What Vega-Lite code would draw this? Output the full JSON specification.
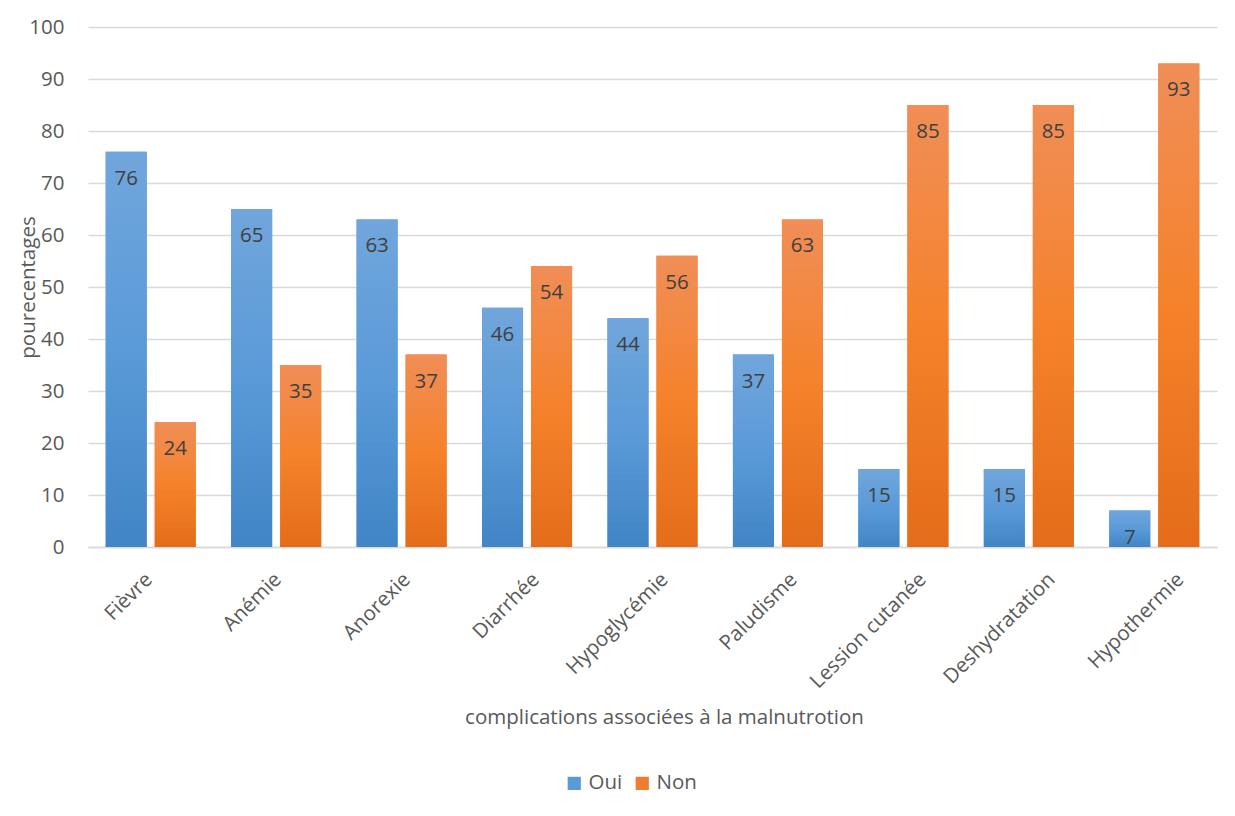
{
  "$schema": "https://vega.github.io/schema/vega-lite/v6.json",
  "width": 1129,
  "height": 520,
  "autosize": {"type": "none"},
  "padding": {"left": 88, "top": 27, "right": 18, "bottom": 269},
  "background": "white",
  "config": {
    "font": "Open Sans",
    "view": {"stroke": null},
    "axis": {
      "labelColor": "#595959",
      "titleColor": "#595959",
      "labelFont": "Open Sans",
      "titleFont": "Open Sans",
      "labelFontSize": 20.5,
      "titleFontSize": 20.5,
      "titleFontWeight": "normal",
      "gridColor": "#d9d9d9",
      "gridWidth": 1.5,
      "domainColor": "#d9d9d9",
      "domainWidth": 1.5,
      "ticks": false
    },
    "legend": {
      "labelColor": "#595959",
      "labelFont": "Open Sans",
      "labelFontSize": 20.5
    }
  },
  "data": {
    "values": [
      {"complication": "Fièvre", "serie": "Oui", "pct": 76},
      {"complication": "Fièvre", "serie": "Non", "pct": 24},
      {"complication": "Anémie", "serie": "Oui", "pct": 65},
      {"complication": "Anémie", "serie": "Non", "pct": 35},
      {"complication": "Anorexie", "serie": "Oui", "pct": 63},
      {"complication": "Anorexie", "serie": "Non", "pct": 37},
      {"complication": "Diarrhée", "serie": "Oui", "pct": 46},
      {"complication": "Diarrhée", "serie": "Non", "pct": 54},
      {"complication": "Hypoglycémie", "serie": "Oui", "pct": 44},
      {"complication": "Hypoglycémie", "serie": "Non", "pct": 56},
      {"complication": "Paludisme", "serie": "Oui", "pct": 37},
      {"complication": "Paludisme", "serie": "Non", "pct": 63},
      {"complication": "Lession cutanée", "serie": "Oui", "pct": 15},
      {"complication": "Lession cutanée", "serie": "Non", "pct": 85},
      {"complication": "Deshydratation", "serie": "Oui", "pct": 15},
      {"complication": "Deshydratation", "serie": "Non", "pct": 85},
      {"complication": "Hypothermie", "serie": "Oui", "pct": 7},
      {"complication": "Hypothermie", "serie": "Non", "pct": 93}
    ]
  },
  "resolve": {"scale": {"x": "independent"}, "axis": {"x": "independent"}},
  "layer": [
    {
      "encoding": {
        "x": {
          "field": "complication",
          "type": "nominal",
          "sort": null,
          "scale": {"paddingInner": 0.282, "paddingOuter": 0.141},
          "axis": null
        },
        "xOffset": {
          "field": "serie",
          "type": "nominal",
          "scale": {"domain": ["Oui", "Non"], "paddingInner": 0.163, "paddingOuter": 0}
        },
        "y": {
          "field": "pct",
          "type": "quantitative",
          "scale": {"domain": [0, 100], "nice": false},
          "axis": {
            "title": "pourecentages",
            "values": [0, 10, 20, 30, 40, 50, 60, 70, 80, 90, 100],
            "domain": false,
            "labelPadding": 24,
            "titlePadding": -10
          }
        }
      },
      "layer": [
        {
          "mark": {"type": "bar"},
          "encoding": {
            "color": {
              "field": "serie",
              "type": "nominal",
              "scale": {"domain": ["Oui", "Non"], "range": ["#5b9bd5", "#ed7d31"]},
              "legend": {
                "title": null,
                "orient": "none",
                "legendX": 476,
                "legendY": 746,
                "direction": "horizontal",
                "symbolType": "square",
                "symbolSize": 175,
                "symbolStrokeWidth": 0,
                "columnPadding": 9,
                "labelOffset": 4
              }
            }
          }
        },
        {
          "transform": [{"filter": "datum.serie === 'Oui'"}],
          "mark": {
            "type": "bar",
            "fill": {
              "gradient": "linear",
              "x1": 0, "y1": 0, "x2": 0, "y2": 1,
              "stops": [
                {"offset": 0, "color": "#71a6dc"},
                {"offset": 0.5, "color": "#5a9ad8"},
                {"offset": 1, "color": "#4185c6"}
              ]
            }
          }
        },
        {
          "transform": [{"filter": "datum.serie === 'Non'"}],
          "mark": {
            "type": "bar",
            "fill": {
              "gradient": "linear",
              "x1": 0, "y1": 0, "x2": 0, "y2": 1,
              "stops": [
                {"offset": 0, "color": "#f08e57"},
                {"offset": 0.5, "color": "#f5822b"},
                {"offset": 1, "color": "#e46c1a"}
              ]
            }
          }
        },
        {
          "mark": {
            "type": "text",
            "baseline": "middle",
            "dy": 27,
            "fontSize": 20.5,
            "font": "Open Sans",
            "color": "#404040"
          },
          "encoding": {
            "text": {"field": "pct", "type": "quantitative", "format": "d"}
          }
        }
      ]
    },
    {
      "mark": {"type": "point", "opacity": 0},
      "encoding": {
        "x": {
          "field": "complication",
          "type": "nominal",
          "sort": null,
          "scale": {"type": "point", "padding": 0.378, "align": 0.643},
          "axis": {
            "title": "complications associées à la malnutrotion",
            "labelAngle": -45,
            "labelPadding": 22,
            "labelOffset": -9,
            "grid": false,
            "titleX": 576,
            "titleY": 170,
            "titleBaseline": "middle"
          }
        }
      }
    }
  ]
}
